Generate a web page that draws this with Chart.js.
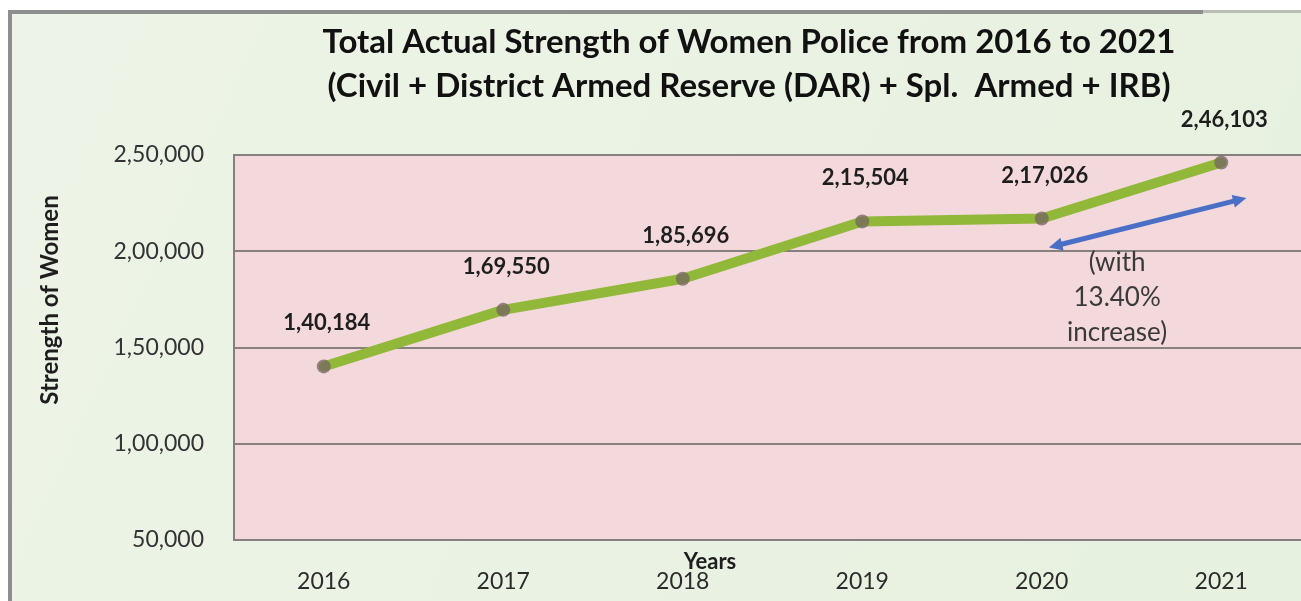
<!DOCTYPE html>
<html lang="en">
<head>
<meta charset="UTF-8">
<title>Total Actual Strength of Women Police 2016-2021</title>
<script src="https://cdn.jsdelivr.net/npm/chart.js"></script>
<style>
    * { margin: 0; padding: 0; box-sizing: border-box; }
    html, body { width: 1301px; height: 601px; overflow: hidden; background: #fff; }
    .chart-wrap { position: relative; width: 1318px; height: 601px; }
</style>
</head>
<body>
<div class="chart-wrap"><canvas id="strengthChart"></canvas></div>
<script>
// data
const years = ['2016', '2017', '2018', '2019', '2020', '2021'];
const strength = [140184, 169550, 185696, 215504, 217026, 246103];
const yMin = 50000, yMax = 250000, yStep = 50000;

const titleLines = [
    'Total Actual Strength of Women Police from 2016 to 2021',
    '(Civil + District Armed Reserve (DAR) + Spl.  Armed + IRB)'
];
const noteLines = ['(with', '13.40%', 'increase)'];
// growth arrow + note, in (category index, value) units
const arrowFrom = [4.04, 202000];
const arrowTo = [5.14, 227700];
const notePos = [4.42, 194000];

// Indian digit grouping: 2,46,103
function inr(n) {
    const s = String(Math.round(n));
    if (s.length <= 3) return s;
    const last3 = s.slice(-3);
    let rest = s.slice(0, -3);
    const parts = [];
    while (rest.length > 2) { parts.unshift(rest.slice(-2)); rest = rest.slice(0, -2); }
    if (rest) parts.unshift(rest);
    return parts.join(',') + ',' + last3;
}

const decor = {
    id: 'decor',
    beforeDraw(chart) {
        const { ctx, chartArea: a, width, height } = chart;
        ctx.save();
        ctx.fillStyle = '#fff';
        ctx.fillRect(0, 0, width, height);
        const g = ctx.createLinearGradient(0, 0, width, height);
        g.addColorStop(0, '#edf4e7');
        g.addColorStop(1, '#e7f1df');
        ctx.fillStyle = g;
        ctx.fillRect(8, 10, width, height);
        ctx.fillStyle = '#f3d8dc';
        ctx.fillRect(a.left, a.top, a.right - a.left, a.bottom - a.top);
        // frame on top/left
        ctx.fillStyle = '#8e8e8e';
        ctx.fillRect(8, 10, 1195, 4);
        ctx.fillStyle = '#b9bdb5';
        ctx.fillRect(1203, 10, width, 3);
        ctx.fillStyle = '#8e8e8e';
        ctx.fillRect(8, 10, 4, height);
        ctx.restore();
    },
    afterDatasetsDraw(chart) {
        const { ctx } = chart;
        const xs = chart.scales.x, ys = chart.scales.y;
        ctx.save();

        // data labels
        ctx.font = 'bold 22px Lato';
        ctx.fillStyle = '#1e1e1e';
        ctx.textAlign = 'center';
        ctx.textBaseline = 'middle';
        chart.getDatasetMeta(0).data.forEach((pt, i) => {
            ctx.fillText(inr(strength[i]), pt.x + 3, pt.y - 43);
        });

        // double-headed arrow
        const x1 = xs.getPixelForValue(arrowFrom[0]), y1 = ys.getPixelForValue(arrowFrom[1]);
        const x2 = xs.getPixelForValue(arrowTo[0]), y2 = ys.getPixelForValue(arrowTo[1]);
        const ang = Math.atan2(y2 - y1, x2 - x1);
        const head = 15;
        ctx.strokeStyle = '#4a6fc7';
        ctx.fillStyle = '#4a6fc7';
        ctx.lineWidth = 5;
        ctx.beginPath();
        ctx.moveTo(x1 + Math.cos(ang) * head * 0.8, y1 + Math.sin(ang) * head * 0.8);
        ctx.lineTo(x2 - Math.cos(ang) * head * 0.8, y2 - Math.sin(ang) * head * 0.8);
        ctx.stroke();
        [[x2, y2, ang], [x1, y1, ang + Math.PI]].forEach(([hx, hy, a]) => {
            ctx.beginPath();
            ctx.moveTo(hx, hy);
            ctx.lineTo(hx - head * Math.cos(a - 0.45), hy - head * Math.sin(a - 0.45));
            ctx.lineTo(hx - head * Math.cos(a + 0.45), hy - head * Math.sin(a + 0.45));
            ctx.closePath();
            ctx.fill();
        });

        // note text
        const nx = xs.getPixelForValue(notePos[0]), ny = ys.getPixelForValue(notePos[1]);
        ctx.font = '26px Lato';
        ctx.fillStyle = '#3a3a3a';
        noteLines.forEach((t, i) => ctx.fillText(t, nx, ny + i * 35));
        ctx.restore();
    },
    afterDraw(chart) {
        const { ctx } = chart;
        ctx.save();
        ctx.textAlign = 'center';
        ctx.textBaseline = 'middle';
        ctx.fillStyle = '#111';
        ctx.font = 'bold 33px Lato';
        ctx.fillText(titleLines[0], 749, 42);
        ctx.fillText(titleLines[1], 749, 86);

        ctx.font = 'bold 22px Lato';
        ctx.fillStyle = '#1e1e1e';
        ctx.fillText('Years', 710, 562);

        ctx.translate(50, 300);
        ctx.rotate(-Math.PI / 2);
        ctx.font = 'bold 24px Lato';
        ctx.fillText('Strength of Women', 0, 0);
        ctx.restore();
    }
};

function draw() {
    new Chart(document.getElementById('strengthChart'), {
        type: 'line',
        data: {
            labels: years,
            datasets: [{
                label: 'Strength of Women',
                data: strength,
                borderColor: '#92b83a',
                borderWidth: 10,
                borderJoinStyle: 'round',
                borderCapStyle: 'round',
                tension: 0,
                pointRadius: 7,
                pointBackgroundColor: 'rgba(115, 100, 96, 0.75)',
                pointBorderWidth: 0
            }]
        },
        options: {
            responsive: true,
            maintainAspectRatio: false,
            animation: false,
            layout: { padding: { top: 155, right: 2, left: 0, bottom: 0 } },
            plugins: {
                legend: { display: false },
                title: { display: false },
                tooltip: { enabled: false }
            },
            scales: {
                x: {
                    offset: true,
                    grid: { display: false, drawTicks: false },
                    border: { display: true, color: '#85807e', width: 2 },
                    ticks: { padding: 28, color: '#2b2b2b', font: { family: 'Lato', size: 23 } },
                    afterFit(s) { s.height = 61; }
                },
                y: {
                    min: yMin,
                    max: yMax,
                    ticks: {
                        stepSize: yStep,
                        padding: 30,
                        color: '#333',
                        font: { family: 'Lato', size: 23 },
                        callback: v => inr(v)
                    },
                    grid: { color: '#86807f', lineWidth: 2, drawTicks: false },
                    border: { display: true, color: '#85807e', width: 2 },
                    afterFit(s) { s.width = 234; }
                }
            }
        },
        plugins: [decor]
    });
}

Promise.all([
    document.fonts.load('21px Lato'),
    document.fonts.load('bold 21px Lato')
]).then(draw, draw);
</script>
</body>
</html>
